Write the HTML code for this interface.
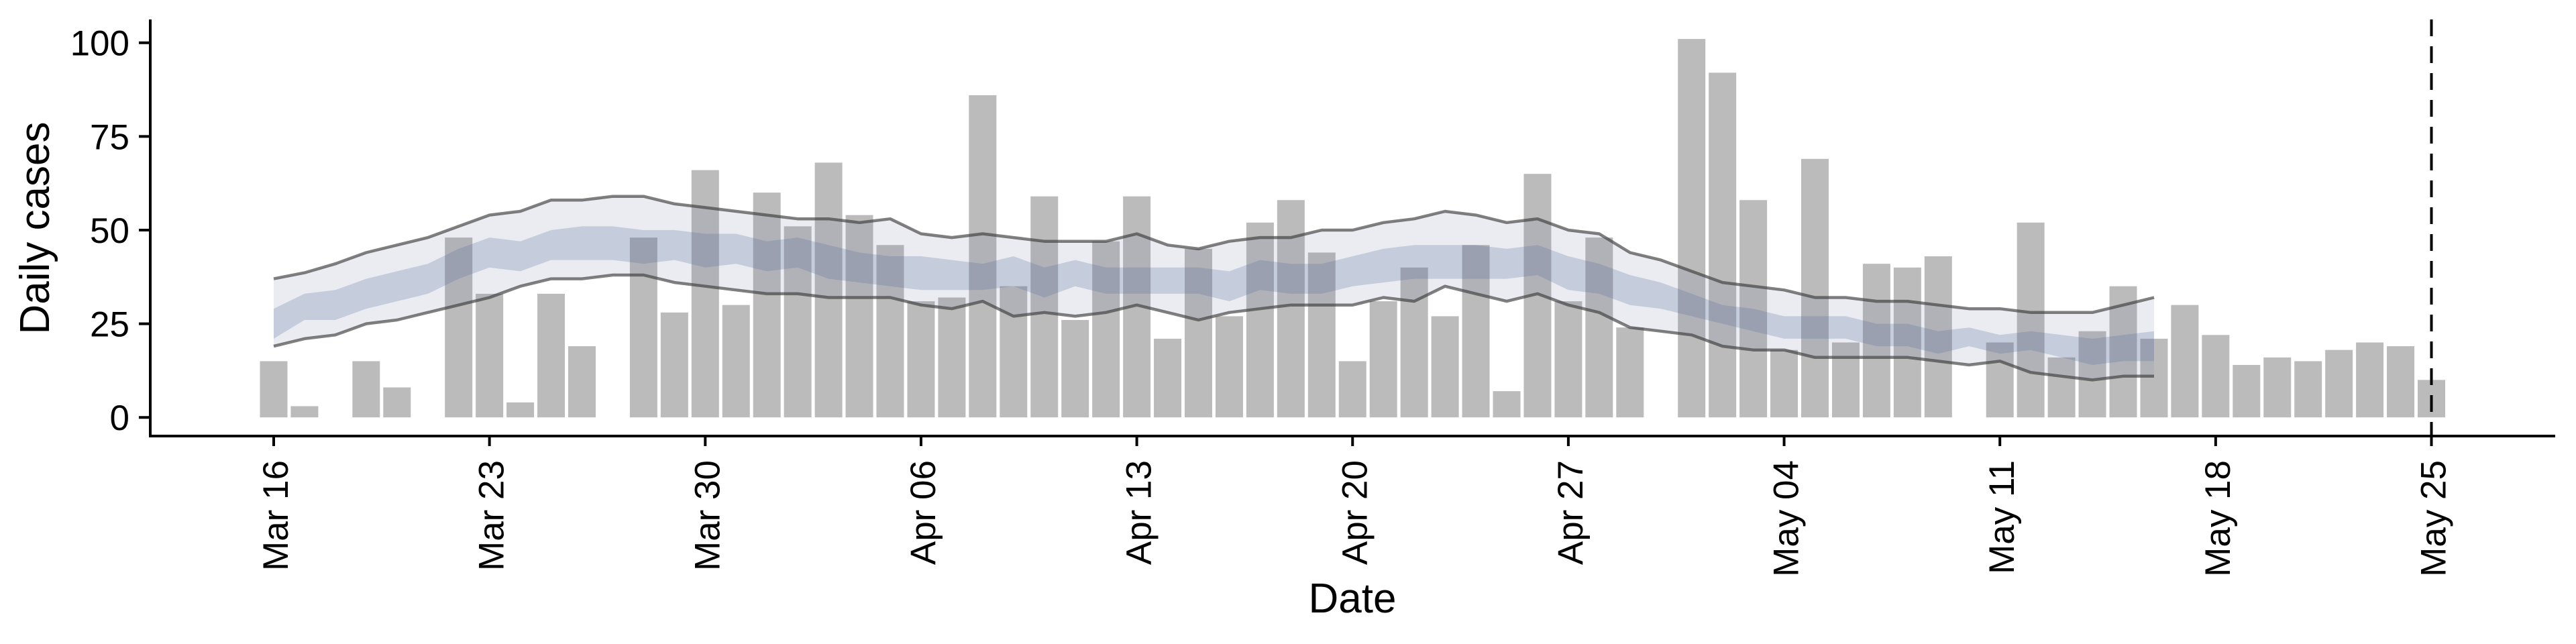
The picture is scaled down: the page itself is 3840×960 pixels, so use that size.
<!DOCTYPE html>
<html><head><meta charset="utf-8"><style>
html,body{margin:0;padding:0;background:#fff;}
svg{display:block;font-family:"Liberation Sans",Arial,sans-serif;}
</style></head><body>
<svg id="chart" width="3840" height="960" viewBox="0 0 3840 960" xmlns="http://www.w3.org/2000/svg">
<g id="bars"></g>
<g id="ribbons2"></g>
<g id="lines"></g>
<g id="axes"></g>
</svg>
<script>
const cases = [15,3,0,15,8,0,48,33,4,33,19,0,48,28,66,30,60,51,68,54,46,31,32,86,35,59,26,47,59,21,45,27,52,58,44,15,31,40,27,46,7,65,31,48,24,0,101,92,58,18,69,20,41,40,43,0,20,52,16,23,35,21,30,22,14,16,15,18,20,19,10];
const outerUpper = [37,38.6,41,44,46,48,51,54,55,58,58,59,59,57,56,55,54,53,53,52,53,49,48,49,48,47,47,47,49,46,45,47,48,48,50,50,52,53,55,54,52,53,50,49,44,42,39,36,35,34,32,32,31,31,30,29,29,28,28,28,30,32];
const outerLower = [19,21,22,25,26,28,30,32,35,37,37,38,38,36,35,34,33,33,32,32,32,30,29,31,27,28,27,28,30,28,26,28,29,30,30,30,32,31,35,33,31,33,30,28,24,23,22,19,18,18,16,16,16,16,15,14,15,12,11,10,11,11];
const innerUpper = [29,33,34,37,39,41,45,48,47,50,51,51,50,50,49,49,47,48,46,44,43,43,42,41,43,40,42,40,40,40,40,39,42,41,41,43,45,46,46,46,45,46,43,41,38,36,33,30,29,27,27,27,25,25,23,24,22,23,22,21,22,23];
const innerLower = [21,26,26,29,31,33,37,40,39,42,42,42,41,42,40,41,39,40,37,36,35,34,34,34,35,32,35,33,33,33,33,31,34,33,33,35,36,37,37,37,37,38,34,33,30,29,27,25,23,21,21,21,19,19,17,19,17,18,16,14,15,15];
const xTickLabels = ["Mar 16","Mar 23","Mar 30","Apr 06","Apr 13","Apr 20","Apr 27","May 04","May 11","May 18","May 25"];
const xTickDays = [0,7,14,21,28,35,42,49,56,63,70];
const yTicks = [0,25,50,75,100];
const vlineDay = 70;

const NS="http://www.w3.org/2000/svg";
const X0=408, DAY=45.95, Y0=622.2, UNIT=5.585;
const xs=d=>X0+d*DAY, ys=v=>Y0-v*UNIT;
function mk(tag,attrs,parent,txt){const e=document.createElementNS(NS,tag);for(const k in attrs)e.setAttribute(k,attrs[k]);if(txt!==undefined)e.textContent=txt;parent.appendChild(e);return e;}

const bars=document.getElementById('bars');
cases.forEach((v,i)=>{ if(v<=0) return;
  const r=mk('rect',{x:xs(i)-20.5,y:ys(v),width:41,height:v*UNIT,fill:'#bbbbbb'},bars);
  
  
});
function band(up,lo){let d='';up.forEach((v,i)=>{d+=(i?'L':'M')+xs(i).toFixed(1)+','+ys(v).toFixed(1);});
  for(let i=lo.length-1;i>=0;i--)d+='L'+xs(i).toFixed(1)+','+ys(lo[i]).toFixed(1);return d+'Z';}
const rib=document.getElementById('ribbons2');
const o=mk('path',{d:band(outerUpper,outerLower),fill:'rgb(115,128,168)','fill-opacity':0.15},rib);


const inn=mk('path',{d:band(innerUpper,innerLower),fill:'rgb(86,108,150)','fill-opacity':0.25},rib);


const lines=document.getElementById('lines');
[outerUpper,outerLower].forEach((arr,k)=>{
  const d=arr.map((v,i)=>(i?'L':'M')+xs(i).toFixed(1)+','+ys(v).toFixed(1)).join('');
  const p=mk('path',{d:d,fill:'none',stroke:'rgb(60,60,60)','stroke-opacity':0.65,'stroke-width':4.5,'stroke-linejoin':'round'},lines);
  
  
});
const ax=document.getElementById('axes');
const yl=mk('line',{x1:224,y1:29,x2:224,y2:652,stroke:'#000','stroke-width':4},ax);


const xl=mk('line',{x1:222,y1:650,x2:3809,y2:650,stroke:'#000','stroke-width':4},ax);


yTicks.forEach(v=>{
  mk('line',{x1:207,y1:ys(v),x2:224,y2:ys(v),stroke:'#000','stroke-width':4},ax);
  const t=mk('text',{x:193,y:ys(v)+19,'text-anchor':'end','font-size':53,fill:'#000'},ax,String(v));
  
  
});
xTickDays.forEach((d,i)=>{
  mk('line',{x1:xs(d),y1:650,x2:xs(d),y2:665,stroke:'#000','stroke-width':4},ax);
  const t=mk('text',{transform:`translate(${xs(d)+21},686) rotate(-90)`,'text-anchor':'end','font-size':53,fill:'#000'},ax,xTickLabels[i]);
  
  
});
const vl=mk('line',{x1:xs(vlineDay),y1:29,x2:xs(vlineDay),y2:650,stroke:'#000','stroke-width':4,'stroke-dasharray':'25,15'},ax);


const yt=mk('text',{transform:'translate(73,340) rotate(-90)','text-anchor':'middle','font-size':62,fill:'#000'},ax,'Daily cases');


const xt=mk('text',{x:2016,y:913,'text-anchor':'middle','font-size':62,fill:'#000'},ax,'Date');


</script>
</body></html>
